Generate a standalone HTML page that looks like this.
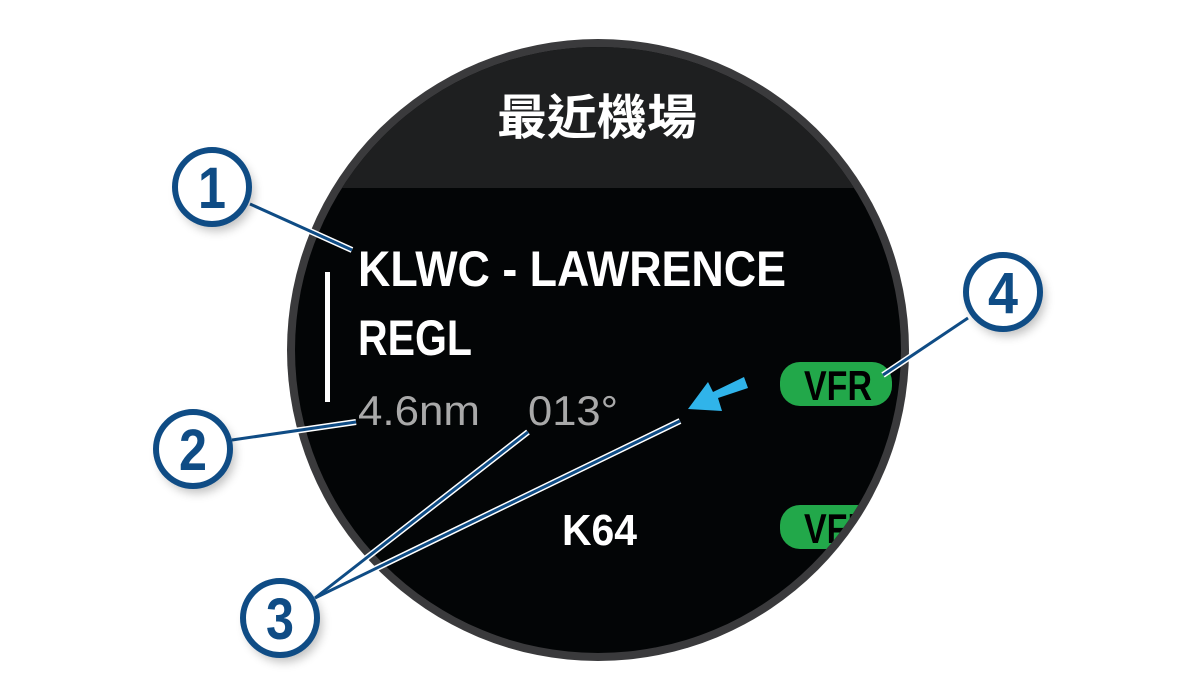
<!DOCTYPE html>
<html><head><meta charset="utf-8"><style>
html,body{margin:0;padding:0;background:#fff;}
svg{display:block;}
</style></head><body>
<svg width="1200" height="677" viewBox="0 0 1200 677" xmlns="http://www.w3.org/2000/svg">
<defs>
<clipPath id="c"><circle cx="598" cy="350" r="303"/></clipPath>
<filter id="sh" x="-50%" y="-50%" width="200%" height="200%"><feGaussianBlur stdDeviation="5"/></filter>
</defs>
<circle cx="598" cy="350" r="311" fill="#3a3a3c"/>
<g clip-path="url(#c)">
<rect x="280" y="30" width="640" height="660" fill="#030506"/>
<rect x="280" y="30" width="640" height="158" fill="#1e1f20"/>
<text x="597" y="134" text-anchor="middle" font-family="Liberation Sans, Noto Sans CJK TC, sans-serif" font-weight="bold" font-size="48" fill="#fff" textLength="200" lengthAdjust="spacingAndGlyphs">最近機場</text>
<rect x="325" y="272" width="5" height="130" fill="#fff"/>
<text x="358" y="286" font-family="Liberation Sans, sans-serif" font-weight="bold" font-size="50" fill="#fff" textLength="428" lengthAdjust="spacingAndGlyphs">KLWC - LAWRENCE</text>
<text x="358" y="355" font-family="Liberation Sans, sans-serif" font-weight="bold" font-size="50" fill="#fff" textLength="114" lengthAdjust="spacingAndGlyphs">REGL</text>
<text x="358" y="425" font-family="Liberation Sans, sans-serif" font-size="42" fill="#a9a9a9" textLength="122" lengthAdjust="spacingAndGlyphs">4.6nm</text>
<text x="528" y="425" font-family="Liberation Sans, sans-serif" font-size="42" fill="#a9a9a9" textLength="90" lengthAdjust="spacingAndGlyphs">013°</text>
<polygon points="688,409 708,382 713,392 744,377 748,388 718,398 722,411" fill="#30b4ea"/>
<rect x="780" y="362" width="112" height="44" rx="20" fill="#22a84a"/>
<text x="804" y="400" font-family="Liberation Sans, sans-serif" font-weight="bold" font-size="42" fill="#000" textLength="68" lengthAdjust="spacingAndGlyphs">VFR</text>
<rect x="780" y="505" width="112" height="44" rx="20" fill="#22a84a"/>
<text x="804" y="543" font-family="Liberation Sans, sans-serif" font-weight="bold" font-size="42" fill="#000" textLength="68" lengthAdjust="spacingAndGlyphs">VFR</text>
<text x="562" y="545" font-family="Liberation Sans, sans-serif" font-weight="bold" font-size="44" fill="#fff" textLength="75" lengthAdjust="spacingAndGlyphs">K64</text>
</g>
<g stroke-linecap="butt" fill="none">
<g stroke="#fff" stroke-width="6">
<line x1="250" y1="204" x2="352" y2="250"/>
<line x1="232" y1="440" x2="356" y2="422"/>
<line x1="315" y1="598" x2="528" y2="432"/>
<line x1="315" y1="598" x2="680" y2="421"/>
<line x1="968" y1="318" x2="883" y2="375"/>
</g>
<g stroke="#0f4c85" stroke-width="3">
<line x1="250" y1="204" x2="352" y2="250"/>
<line x1="232" y1="440" x2="356" y2="422"/>
<line x1="315" y1="598" x2="528" y2="432"/>
<line x1="315" y1="598" x2="680" y2="421"/>
<line x1="968" y1="318" x2="883" y2="375"/>
</g>
</g>
<g font-family="Liberation Sans, sans-serif" font-weight="bold" font-size="58" fill="#0f4c85" text-anchor="middle">
<circle cx="216" cy="193" r="38" fill="#000" opacity="0.25" filter="url(#sh)"/>
<circle cx="212" cy="187" r="37" fill="#fff" stroke="#0f4c85" stroke-width="6"/>
<text x="212" y="208" textLength="28" lengthAdjust="spacingAndGlyphs">1</text>
<circle cx="197" cy="455" r="38" fill="#000" opacity="0.25" filter="url(#sh)"/>
<circle cx="193" cy="449" r="37" fill="#fff" stroke="#0f4c85" stroke-width="6"/>
<text x="193" y="470" textLength="28" lengthAdjust="spacingAndGlyphs">2</text>
<circle cx="284" cy="624" r="38" fill="#000" opacity="0.25" filter="url(#sh)"/>
<circle cx="280" cy="618" r="37" fill="#fff" stroke="#0f4c85" stroke-width="6"/>
<text x="280" y="639" textLength="28" lengthAdjust="spacingAndGlyphs">3</text>
<circle cx="1007" cy="298" r="38" fill="#000" opacity="0.25" filter="url(#sh)"/>
<circle cx="1003" cy="292" r="37" fill="#fff" stroke="#0f4c85" stroke-width="6"/>
<text x="1003" y="313" textLength="30" lengthAdjust="spacingAndGlyphs">4</text>
</g>
</svg>
</body></html>
